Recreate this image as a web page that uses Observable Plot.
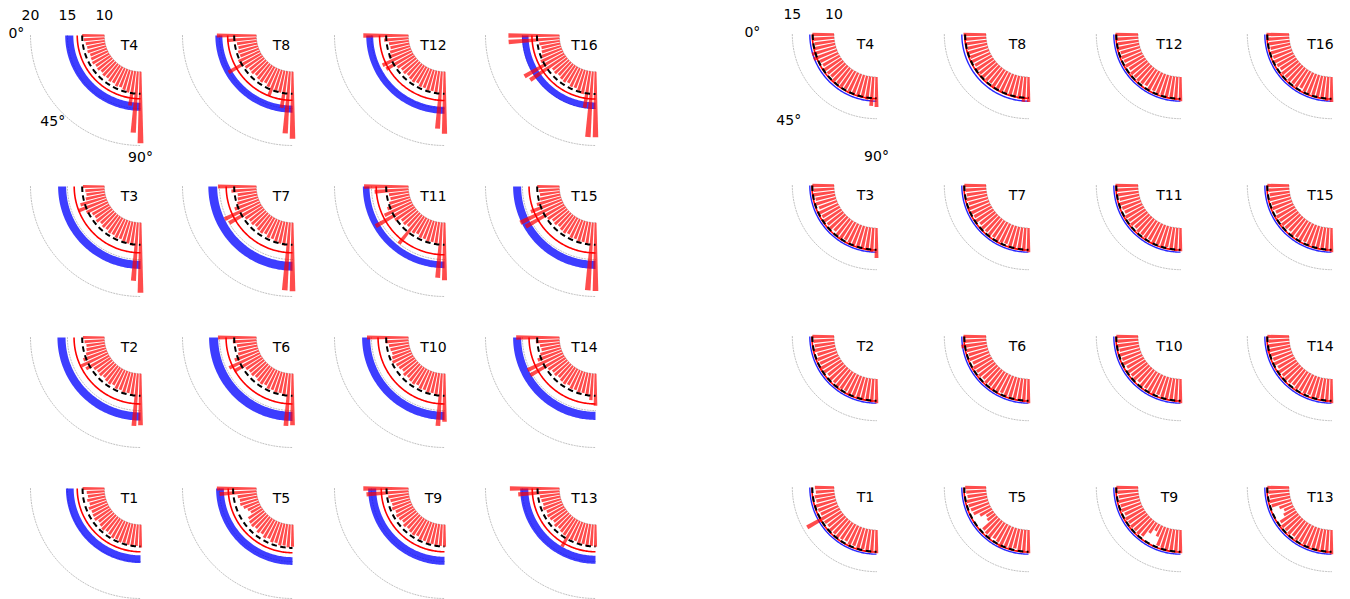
<!DOCTYPE html>
<html><head><meta charset="utf-8">
<script src="https://cdn.jsdelivr.net/npm/d3@7"></script>
<script src="https://cdn.jsdelivr.net/npm/@observablehq/plot@0.6"></script>
<style>
body{margin:0;background:#fff;font-family:"DejaVu Sans",sans-serif}
#chart{position:relative;width:1350px;height:599px;overflow:hidden;background:#fff}
#chart svg{position:absolute;overflow:visible;background:transparent}
</style></head><body><div id="chart"></div>
<script>
// bar angles (degrees), 0 = west, 90 = south
const angles = [0, 4.29, 8.57, 12.86, 17.14, 21.43, 25.71, 30, 34.29, 38.57, 42.86, 47.14, 51.43, 55.71, 60, 64.29, 68.57, 72.86, 77.14, 81.43, 85.71, 90];
const panelNames = ["T1","T2","T3","T4","T5","T6","T7","T8","T9","T10","T11","T12","T13","T14","T15","T16"];

// ---- left group ----
const leftRadialTicks = [20, 15, 10];
const leftBars = [
  /*T1*/ [12.95,12.4,12.3,12.5,12.3,12.6,12.4,12.5,12.6,12.3,12.5,12.7,12.5,12.6,12.8,12.7,12.9,12.8,12.9,13.0,12.9,13.1],
  /*T2*/ [12.9,12.7,12.5,12.6,12.8,13.4,14.0,13.6,12.7,12.5,12.6,12.4,12.6,12.7,12.5,12.8,12.7,12.9,12.8,13.0,17.1,17.0],
  /*T3*/ [12.9,12.6,12.5,12.7,13.6,14.1,13.2,12.6,12.5,12.7,12.4,12.6,12.5,12.7,12.6,12.8,12.7,12.9,13.0,13.2,17.9,19.5],
  /*T4*/ [13.0,12.8,12.6,12.5,12.6,12.4,12.5,12.6,12.4,12.5,12.3,12.5,12.4,12.6,12.5,12.7,12.6,12.8,13.0,14.7,18.3,19.7],
  /*T5*/ [15.35,15.0,12.6,12.4,12.5,12.2,11.8,11.6,12.3,12.5,12.6,12.4,12.7,12.5,12.8,12.6,12.9,12.8,13.0,12.9,13.1,13.0],
  /*T6*/ [15.2,13.2,12.7,12.6,12.8,13.5,14.6,14.2,12.7,12.5,12.6,12.4,12.6,12.7,12.5,12.8,12.7,12.9,12.8,13.0,17.1,17.0],
  /*T7*/ [15.2,13.4,12.6,12.7,12.9,13.5,15.3,15.0,12.8,12.5,12.6,12.4,12.6,12.7,12.5,12.8,12.7,12.9,13.0,13.2,19.2,19.3],
  /*T8*/ [15.35,14.0,12.7,12.6,12.8,12.7,13.2,15.1,12.8,12.5,12.6,12.4,12.6,12.7,12.5,12.8,13.9,12.9,13.0,15.0,18.4,19.1],
  /*T9*/ [16.1,15.7,12.8,12.6,12.5,12.7,12.4,12.6,12.5,12.3,12.6,12.4,12.6,12.7,12.5,12.8,12.7,12.9,12.8,13.0,12.9,13.0],
  /*T10*/[15.6,13.1,12.7,12.6,12.5,12.7,12.9,12.6,12.5,12.3,12.6,12.4,12.6,12.7,12.5,12.8,12.7,12.9,12.8,13.0,17.1,16.5],
  /*T11*/[16.0,14.6,12.7,12.6,12.9,13.4,14.1,15.85,13.2,12.5,12.6,12.4,15.0,12.7,12.5,12.8,12.7,12.9,12.8,13.0,17.5,17.8],
  /*T12*/[16.1,13.3,12.7,12.6,12.8,13.2,14.4,14.2,12.8,12.5,12.6,12.4,12.6,12.7,12.5,12.8,12.7,12.9,12.8,13.1,17.75,18.4],
  /*T13*/[16.7,15.6,12.7,12.6,12.5,12.7,12.4,12.6,12.5,12.3,12.6,12.4,12.6,12.7,14.2,12.8,12.7,12.9,12.8,13.0,12.9,13.0],
  /*T14*/[15.85,13.2,12.7,12.6,12.9,13.5,15.3,15.3,12.8,12.5,12.6,12.4,12.6,12.7,12.5,12.8,12.7,12.9,12.8,13.0,13.6,14.35],
  /*T15*/[13.0,12.8,12.7,12.8,13.4,14.5,16.4,16.0,12.9,12.5,12.6,12.4,12.6,12.7,12.5,12.8,12.7,12.9,12.8,13.1,19.2,19.25],
  /*T16*/[16.9,16.9,12.8,12.6,12.7,12.9,13.3,16.2,15.8,12.5,12.6,12.4,12.6,12.7,12.5,12.8,12.7,12.9,13.2,15.0,18.9,18.9]
];
const leftDashed = [12.95,13.0,13.0,13.0,13.15,13.0,13.0,13.0,12.95,13.0,13.0,13.0,12.95,13.0,13.0,13.03];
const leftRed    = [13.67,14.1,14.08,13.67,13.8,14.1,14.08,13.88,13.67,14.1,14.35,13.9,13.67,14.1,14.1,13.71];
const leftBlueLo = [14.15,15.25,15.17,14.2,14.4,15.17,15.3,14.6,14.35,15.17,15.26,14.76,14.2,15.17,15.17,14.17];
const leftBlueHi = [15.2,16.35,16.26,15.3,15.45,16.4,16.5,15.55,15.44,16.26,16.16,15.7,15.3,16.26,16.26,15.07];

// ---- right group ----
const rightRadialTicks = [15, 10];
const rightBars = [
  /*T1*/ [12.3,12.2,12.4,12.3,12.5,12.4,12.3,14.5,12.4,12.3,12.5,12.4,12.5,12.4,12.3,12.5,12.4,12.6,12.5,12.7,12.6,12.8],
  /*T2*/ [12.6,12.5,12.4,12.6,12.3,12.5,12.4,12.6,12.5,12.3,12.5,12.4,12.6,12.5,12.4,12.6,12.5,12.7,12.6,12.7,12.8,12.9],
  /*T3*/ [12.6,12.5,12.6,12.4,12.5,12.3,12.5,12.4,12.6,12.4,12.5,12.3,12.5,12.6,12.4,12.5,12.6,12.7,12.6,12.8,12.9,13.6],
  /*T4*/ [12.6,12.5,12.4,12.5,13.0,13.0,12.4,12.3,12.5,12.4,12.3,12.5,12.4,12.5,12.4,12.5,12.6,12.5,12.7,12.8,13.5,13.6],
  /*T5*/ [12.5,12.4,12.3,12.5,12.4,12.3,12.2,11.6,11.0,11.2,12.3,12.4,12.5,12.3,12.4,12.9,12.5,12.6,12.4,12.7,12.6,12.8],
  /*T6*/ [12.7,12.6,13.05,12.5,12.4,12.5,12.3,12.5,12.4,12.5,12.3,12.5,12.4,12.6,12.5,12.4,12.6,12.5,12.7,12.6,12.8,12.9],
  /*T7*/ [12.6,12.5,12.4,12.5,12.4,12.6,12.5,12.4,12.5,12.3,12.5,12.4,12.5,12.4,12.6,12.5,12.4,12.6,12.7,12.6,12.8,12.9],
  /*T8*/ [12.7,12.6,12.5,12.4,12.5,12.4,12.5,12.3,12.5,12.4,12.5,12.4,12.3,12.5,12.4,12.5,12.6,12.5,12.6,12.7,13.0,13.0],
  /*T9*/ [12.6,12.5,12.4,12.5,12.4,12.5,12.3,12.5,12.4,12.5,12.4,12.5,12.3,11.5,10.9,11.4,12.4,12.5,12.6,12.7,12.6,12.8],
  /*T10*/[12.6,12.5,12.6,12.4,12.5,12.4,12.5,12.3,12.5,12.4,12.5,12.3,12.5,12.4,12.5,12.6,12.4,12.5,12.6,12.7,12.8,12.9],
  /*T11*/[12.7,12.6,12.5,12.4,12.5,12.4,12.3,12.5,12.4,12.5,12.3,12.5,12.4,12.5,12.4,12.6,12.5,12.6,12.5,12.7,12.8,12.8],
  /*T12*/[12.7,12.6,12.5,12.6,12.4,12.5,12.4,12.5,12.3,12.5,12.4,12.5,12.4,12.3,12.5,12.4,12.6,12.5,12.6,12.7,12.8,12.9],
  /*T13*/[12.6,12.5,12.4,12.5,12.4,11.6,11.2,11.5,12.3,12.5,12.4,12.5,12.3,12.5,12.4,12.5,12.6,12.5,12.6,12.7,12.8,12.9],
  /*T14*/[12.6,12.5,12.7,12.8,12.5,12.4,12.5,12.3,12.5,12.4,12.5,12.4,12.3,12.5,12.4,12.5,12.4,12.6,12.5,12.7,12.8,12.9],
  /*T15*/[12.6,12.5,12.4,12.5,12.4,12.5,12.3,12.5,12.4,12.5,12.4,12.3,12.5,12.4,12.5,12.4,12.6,12.5,12.6,12.7,12.8,12.9],
  /*T16*/[12.7,12.6,12.5,12.4,12.5,12.4,12.5,12.4,12.3,12.5,12.4,12.5,12.4,12.5,12.3,12.5,12.6,12.5,12.6,12.7,12.9,13.0]
];
const rightDashed = [12.6,12.6,12.6,12.55,12.6,12.6,12.6,12.5,12.6,12.6,12.6,12.6,12.6,12.6,12.6,12.6];
const rightRed    = [12.65,12.65,12.65,12.6,12.65,12.65,12.65,12.55,12.65,12.65,12.65,12.65,12.65,12.65,12.65,12.65];
const rightBlue   = [12.9,12.9,12.9,12.9,12.9,12.9,12.9,12.9,12.9,12.9,12.9,12.9,12.9,12.9,12.9,12.9];

const thetaTicks = [0, 45, 90];

// ---- layout ----
const W = 175, H = 185, CX = 150, CY = 45;
const colStep = 151.8, rowStep = 151;
const groups = [
  {o: 5.1, rmax: 20.0, grid: [10, 15, 20], ticks: leftRadialTicks, bars: leftBars, dashed: leftDashed, red: leftRed, lo: leftBlueLo, hi: leftBlueHi, x0: 140, y0: 35, band: true},
  {o: 4.9, rmax: 18.1, grid: [10, 15], ticks: rightRadialTicks, bars: rightBars, dashed: rightDashed, red: rightRed, lo: rightBlue, hi: null, x0: 876, y0: 34, band: false}
];
const barBase = 10;
const stepDeg = angles[1] - angles[0];
const halfW = 0.36 * (90 / (angles.length - 1));
const arcT = d3.range(0, 90.001, 1);
const chart = document.getElementById("chart");
const FONT = "DejaVu Sans";

function makePanel(g, idx) {
  const col = Math.floor(idx / 4), row = 3 - (idx % 4);
  const k = 110 / (g.rmax - g.o);
  const pt = (th, r, extra) => ({x: -(r - g.o) * Math.cos(th * Math.PI / 180), y: (r - g.o) * Math.sin(th * Math.PI / 180), ...extra});
  const arc = (r, extra) => arcT.map(t => pt(t, r, extra));

  const gridPts = g.grid.flatMap(r => arc(r, {g: r}));
  const barPts = g.bars[idx].flatMap((v, i) => {
    const a = angles[i];
    return [pt(a - halfW, barBase, {id: i}), pt(a + halfW, barBase, {id: i}), pt(a + halfW, v, {id: i}), pt(a - halfW, v, {id: i})];
  });
  const marks = [
    Plot.line(gridPts, {x: "x", y: "y", z: "g", stroke: "#b0b0b0", strokeWidth: 0.8, strokeDasharray: "1.2,1.6", curve: "linear"})
  ];
  if (g.band) {
    const poly = [...arc(g.hi[idx]), ...arc(g.lo[idx]).reverse()];
    marks.push(Plot.line(poly, {x: "x", y: "y", fill: "#0000ff", fillOpacity: 0.76, stroke: "none"}));
  } else {
    marks.push(Plot.line(arc(g.lo[idx]), {x: "x", y: "y", stroke: "#0000ff", strokeWidth: 1.4, strokeOpacity: 0.85, strokeLinecap: "butt"}));
  }
  marks.push(Plot.line(barPts, {x: "x", y: "y", z: "id", fill: "#ff0000", fillOpacity: 0.7, stroke: "none"}));
  marks.push(Plot.line(arc(g.red[idx]), {x: "x", y: "y", stroke: "#ff0000", strokeWidth: 1.6, strokeLinecap: "butt"}));
  marks.push(Plot.line(arc(g.dashed[idx]), {x: "x", y: "y", stroke: "#000", strokeWidth: 2, strokeDasharray: "5.5,3.5", strokeLinecap: "butt"}));
  marks.push(Plot.text([panelNames[idx]], {x: () => 0, y: () => 0, text: d => d, dx: -11, dy: 10, fontSize: 14, fill: "#000", fontFamily: FONT}));
  if (idx === 3) {
    marks.push(Plot.text(g.ticks, {x: r => -(r - g.o), y: () => 0, text: r => String(r), dy: -20, fontSize: 14, fill: "#000", fontFamily: FONT}));
    const lr = g.o + 1.128 * (g.rmax - g.o);
    marks.push(Plot.text(thetaTicks, {x: t => pt(t, lr).x, y: t => pt(t, lr).y, text: t => t + "°", dy: -2, fontSize: 14, fill: "#000", fontFamily: FONT}));
  }
  const svg = Plot.plot({
    width: W, height: H, margin: 0,
    x: {domain: [-CX / k, (W - CX) / k], range: [0, W], axis: null},
    y: {domain: [-CY / k, (H - CY) / k], range: [0, H], axis: null},
    style: {background: "transparent", fontFamily: FONT, overflow: "visible"},
    marks
  });
  svg.style.left = (g.x0 + col * colStep - CX) + "px";
  svg.style.top = (g.y0 + row * rowStep - CY) + "px";
  chart.appendChild(svg);
}
groups.forEach(g => panelNames.forEach((_, i) => makePanel(g, i)));
</script></body></html>
